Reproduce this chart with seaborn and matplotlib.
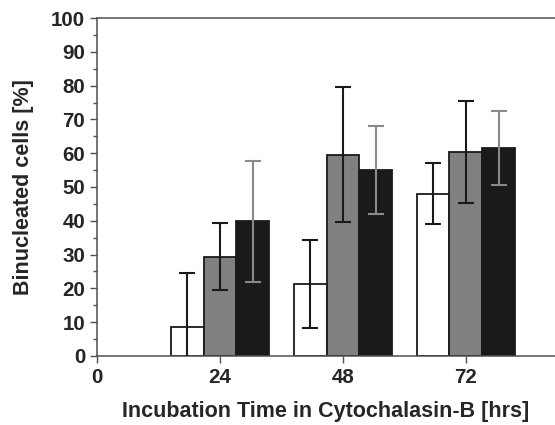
#!/usr/bin/env python

import pandas as pd
import matplotlib.pyplot as plt
import numpy as np
import seaborn as sns
from matplotlib.ticker import MultipleLocator

# Data
times = [24, 48, 72]
groups = ["A", "B", "C"]
mean_a = [8.7, 21.2, 48.0]
sd_a = [16.0, 13.0, 9.0]
mean_b = [29.4, 59.5, 60.3]
sd_b = [10.0, 20.0, 15.0]
mean_c = [39.8, 55.0, 61.5]
sd_c = [18.0, 13.0, 11.0]
x_ticks = [0, 24, 48, 72]

bar_colors = ["#ffffff", "#808080", "#1a1a1a"]
err_colors = ["#1a1a1a", "#1a1a1a", "#8a8a8a"]

sns.set_style("ticks")
plt.rcParams['font.family'] = ['Liberation Sans', 'DejaVu Sans']
plt.rcParams['font.weight'] = 'bold'

df = pd.DataFrame({
    'Time': times * 3,
    'Group': [g for g in groups for _ in times],
    'Value': mean_a + mean_b + mean_c,
    'SD': sd_a + sd_b + sd_c,
})

fig = plt.figure(figsize=(5.55, 4.25), dpi=100)
ax = fig.add_axes([0.1748, 0.1624, 0.8252, 0.7952])

sns.barplot(data=df, x='Time', y='Value', hue='Group', hue_order=groups,
            palette=bar_colors, native_scale=True, width=0.8, dodge=True,
            edgecolor='#1a1a1a', linewidth=1.3, errorbar=None, legend=False, ax=ax)

# Error bars at the centre of each drawn bar
for container, group, ecol in zip(ax.containers, groups, err_colors):
    sub = df[df['Group'] == group]
    centers = [p.get_x() + p.get_width() / 2 for p in container.patches]
    ax.errorbar(centers, sub['Value'], yerr=sub['SD'], fmt='none',
                ecolor=ecol, elinewidth=1.5, capsize=5.8, capthick=1.5, zorder=5)

ax.set_xlim(0, 89.4)
ax.set_ylim(0, 100)
ax.set_xticks(x_ticks)
ax.set_xticklabels([str(t) for t in x_ticks])
ax.yaxis.set_major_locator(MultipleLocator(10))
ax.yaxis.set_minor_locator(MultipleLocator(5))

ax.spines['right'].set_visible(False)
for s in ['left', 'bottom', 'top']:
    ax.spines[s].set_color('#505050')
    ax.spines[s].set_linewidth(1.1)

ax.tick_params(axis='both', which='major', labelsize=14.8, color='#505050',
               width=1.0, length=5, direction='out')
ax.tick_params(axis='y', which='minor', color='#505050', width=1.0, length=3, direction='out')

ax.set_xlabel('Incubation Time in Cytochalasin-B [hrs]', fontsize=15.5, fontweight='bold', labelpad=10)
ax.set_ylabel('Binucleated cells [%]', fontsize=15.5, fontweight='bold', labelpad=12)

plt.savefig('out.png', dpi=100)
